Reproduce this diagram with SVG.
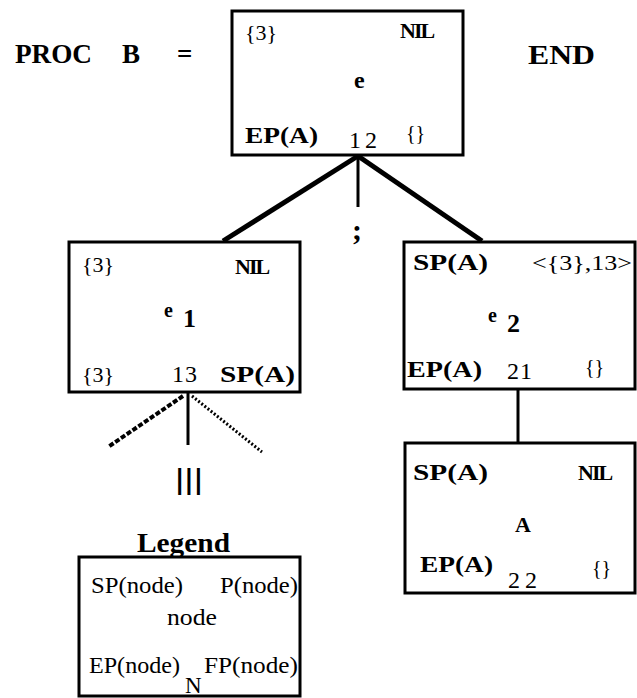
<svg xmlns="http://www.w3.org/2000/svg" width="637" height="698" viewBox="0 0 637 698">
<style>
.box{fill:#fff;stroke:#000;stroke-width:3}
.b{font-family:"Liberation Serif",serif;font-weight:bold;fill:#000}
.r{font-family:"Liberation Serif",serif;fill:#000}
.ln{stroke:#000;fill:none}
</style>
<rect width="637" height="698" fill="#fff"/>
<g id="title">
<text class="b" x="15" y="63" font-size="27" textLength="77" lengthAdjust="spacingAndGlyphs">PROC</text>
<text class="b" x="122" y="63" font-size="27">B</text>
<text class="b" x="177" y="63" font-size="27">=</text>
<text class="b" x="528" y="64" font-size="27" textLength="67" lengthAdjust="spacingAndGlyphs">END</text>
</g>
<g id="connectors">
<line class="ln" x1="358" y1="156" x2="223" y2="241" stroke-width="5"/>
<line class="ln" x1="358" y1="156" x2="482" y2="241" stroke-width="5"/>
<line class="ln" x1="358" y1="156" x2="358" y2="207" stroke-width="3"/>
<line class="ln" x1="188" y1="392" x2="188" y2="445" stroke-width="3"/>
<line class="ln" x1="183" y1="396" x2="108" y2="447" stroke-width="4" stroke-dasharray="5 2"/>
<line class="ln" x1="192" y1="396" x2="262" y2="452" stroke-width="3" stroke-dasharray="2 2"/>
<line class="ln" x1="518" y1="389" x2="518" y2="443" stroke-width="3"/>
</g>
<text class="b" x="357" y="240" font-size="30" text-anchor="middle">;</text>
<text class="b" x="189" y="489" font-size="30" text-anchor="middle" textLength="28" lengthAdjust="spacingAndGlyphs">|||</text>
<g id="node-e">
<rect class="box" x="232" y="11" width="231" height="144"/>
<text class="r" x="245" y="40" font-size="22">{3}</text>
<text class="b" x="400" y="38" font-size="22" letter-spacing="-2">NIL</text>
<text class="b" x="354" y="88" font-size="24">e</text>
<text class="b" x="245" y="143" font-size="24" textLength="73" lengthAdjust="spacingAndGlyphs">EP(A)</text>
<text class="r" x="349" y="148" font-size="24" textLength="28" lengthAdjust="spacing">12</text>
<text class="r" x="406" y="140" font-size="20">{}</text>
</g>
<g id="node-e1">
<rect class="box" x="69" y="242" width="231" height="150"/>
<text class="r" x="82" y="272" font-size="22">{3}</text>
<text class="b" x="235" y="274" font-size="22" letter-spacing="-2">NIL</text>
<text class="b" x="164" y="317" font-size="20">e</text>
<text class="b" x="183" y="327" font-size="26">1</text>
<text class="r" x="82" y="382" font-size="22">{3}</text>
<text class="r" x="172" y="382" font-size="24" textLength="25" lengthAdjust="spacing">13</text>
<text class="b" x="220" y="382" font-size="24" textLength="75" lengthAdjust="spacingAndGlyphs">SP(A)</text>
</g>
<g id="node-e2">
<rect class="box" x="404" y="242" width="231" height="147"/>
<text class="b" x="413" y="270" font-size="24" textLength="75" lengthAdjust="spacingAndGlyphs">SP(A)</text>
<text class="r" x="532" y="270" font-size="22" textLength="100" lengthAdjust="spacingAndGlyphs">&lt;{3},13&gt;</text>
<text class="b" x="488" y="322" font-size="20">e</text>
<text class="b" x="507" y="332" font-size="26">2</text>
<text class="b" x="407" y="377" font-size="24" textLength="75" lengthAdjust="spacingAndGlyphs">EP(A)</text>
<text class="r" x="507" y="379" font-size="24" textLength="25" lengthAdjust="spacing">21</text>
<text class="r" x="585" y="374" font-size="20">{}</text>
</g>
<g id="node-A">
<rect class="box" x="405" y="443" width="230" height="150"/>
<text class="b" x="413" y="480" font-size="24" textLength="75" lengthAdjust="spacingAndGlyphs">SP(A)</text>
<text class="b" x="578" y="480" font-size="22" letter-spacing="-2">NIL</text>
<text class="b" x="515" y="532" font-size="22">A</text>
<text class="b" x="420" y="572" font-size="24" textLength="73" lengthAdjust="spacingAndGlyphs">EP(A)</text>
<text class="r" x="508" y="588" font-size="24" textLength="29" lengthAdjust="spacing">22</text>
<text class="r" x="592" y="575" font-size="20">{}</text>
</g>
<g id="legend">
<text class="b" x="137" y="552" font-size="27" textLength="93" lengthAdjust="spacingAndGlyphs">Legend</text>
<rect class="box" x="79" y="557" width="221" height="139"/>
<text class="r" x="91" y="593" font-size="23" textLength="92" lengthAdjust="spacingAndGlyphs">SP(node)</text>
<text class="r" x="220" y="593" font-size="23" textLength="78" lengthAdjust="spacingAndGlyphs">P(node)</text>
<text class="r" x="167" y="625" font-size="23" textLength="50" lengthAdjust="spacingAndGlyphs">node</text>
<text class="r" x="89" y="673" font-size="23" textLength="91" lengthAdjust="spacingAndGlyphs">EP(node)</text>
<text class="r" x="185" y="693" font-size="23">N</text>
<text class="r" x="204" y="673" font-size="23" textLength="94" lengthAdjust="spacingAndGlyphs">FP(node)</text>
</g>
</svg>
